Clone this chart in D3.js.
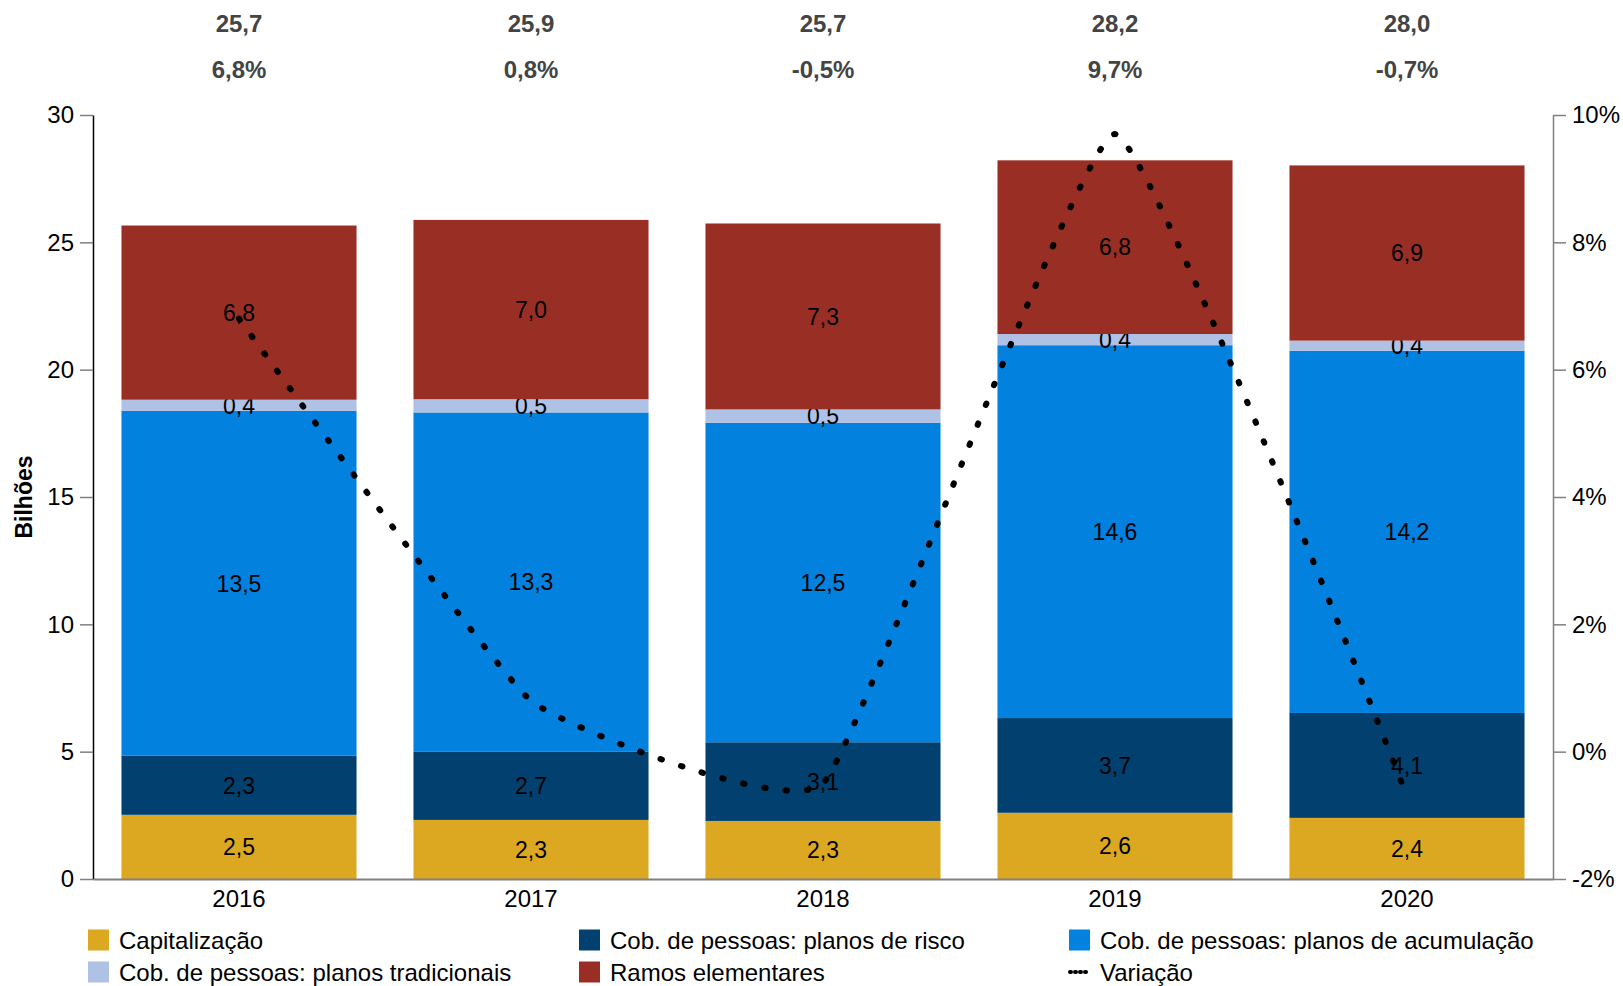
<!DOCTYPE html>
<html>
<head>
<meta charset="utf-8">
<script src="https://cdn.jsdelivr.net/npm/d3@7"></script>
<style>
  body { margin: 0; background: #fff; }
  text { font-family: "Liberation Sans", Arial, sans-serif; }
</style>
</head>
<body>
<div class="canvas"></div>
<script>
// data
const years = ['2016', '2017', '2018', '2019', '2020'];
const capitalizacao = [2.52, 2.32, 2.28, 2.60, 2.40];
const risco = [2.32, 2.69, 3.09, 3.72, 4.12];
const acumulacao = [13.54, 13.31, 12.54, 14.64, 14.22];
const tradicionais = [0.44, 0.52, 0.53, 0.44, 0.40];
const ramos = [6.84, 7.04, 7.30, 6.82, 6.88];
const variacao = [6.8, 0.8, -0.5, 9.7, -0.7];
const leftTicks = [0, 5, 10, 15, 20, 25, 30];
const rightTicks = [-2, 0, 2, 4, 6, 8, 10];

const series = [
    { name: 'Capitalização', values: capitalizacao, color: '#dca822' },
    { name: 'Cob. de pessoas: planos de risco', values: risco, color: '#02406f' },
    { name: 'Cob. de pessoas: planos de acumulação', values: acumulacao, color: '#0281df' },
    { name: 'Cob. de pessoas: planos tradicionais', values: tradicionais, color: '#afc1e5' },
    { name: 'Ramos elementares', values: ramos, color: '#992f24' }
];

// pt-BR style: comma decimal, plain hyphen for minus
const fmt = v => d3.format('.1f')(v).replace('.', ',').replace('\u2212', '-');
const fontSize = 24;

const svg = d3.select('.canvas')
    .append('svg')
    .attr('width', 1623)
    .attr('height', 986);

// plot area
const margin = { top: 115, left: 93, right: 70, bottom: 107 };
const graphWidth = 1623 - margin.left - margin.right;
const graphHeight = 986 - margin.top - margin.bottom;

const graph = svg.append('g')
    .attr('transform', `translate(${margin.left}, ${margin.top})`);

const xScale = d3.scaleBand()
    .domain(years)
    .range([0, graphWidth])
    .paddingInner(0.195)
    .paddingOuter(0.0975);

const yScale = d3.scaleLinear()
    .domain([0, 30])
    .range([graphHeight, 0]);

const y2Scale = d3.scaleLinear()
    .domain([-2, 10])
    .range([graphHeight, 0]);

// stacked data
const table = years.map((y, i) => {
    const row = { year: y };
    series.forEach(s => row[s.name] = s.values[i]);
    return row;
});
const stack = d3.stack().keys(series.map(s => s.name))(table);

const layers = graph.selectAll('g.layer')
    .data(stack)
    .enter()
    .append('g')
    .attr('class', 'layer')
    .attr('fill', (d, i) => series[i].color);

layers.selectAll('rect')
    .data(d => d)
    .enter()
    .append('rect')
    .attr('x', d => xScale(d.data.year))
    .attr('width', xScale.bandwidth())
    .attr('y', d => yScale(d[1]))
    .attr('height', d => yScale(d[0]) - yScale(d[1]));

// segment labels
layers.selectAll('text')
    .data(d => d)
    .enter()
    .append('text')
    .attr('x', d => xScale(d.data.year) + xScale.bandwidth() / 2)
    .attr('y', d => (yScale(d[0]) + yScale(d[1])) / 2)
    .attr('dy', '0.36em')
    .attr('text-anchor', 'middle')
    .attr('font-size', 23)
    .attr('fill', '#000')
    .text(d => fmt(d[1] - d[0]));

// axes
const styleTicks = g => g.selectAll('.tick text')
    .attr('font-size', fontSize)
    .attr('fill', '#000')
    .style('font-family', '"Liberation Sans", Arial, sans-serif');

const yAxis = d3.axisLeft(yScale)
    .tickValues(leftTicks)
    .tickSize(13)
    .tickSizeOuter(0)
    .tickPadding(6);
const yAxisGroup = graph.append('g').call(yAxis).call(styleTicks);
yAxisGroup.select('.domain').attr('stroke', '#000').attr('stroke-width', 1.5);
yAxisGroup.selectAll('.tick line').attr('stroke', '#808080').attr('stroke-width', 1.5);

const y2Axis = d3.axisRight(y2Scale)
    .tickValues(rightTicks)
    .tickSize(13)
    .tickSizeOuter(0)
    .tickPadding(6)
    .tickFormat(d => d + '%');
const y2AxisGroup = graph.append('g')
    .attr('transform', `translate(${graphWidth}, 0)`)
    .call(y2Axis)
    .call(styleTicks);
y2AxisGroup.select('.domain').attr('stroke', '#808080').attr('stroke-width', 1.5);
y2AxisGroup.selectAll('.tick line').attr('stroke', '#808080').attr('stroke-width', 1.5);

const xAxis = d3.axisBottom(xScale).tickSize(0).tickSizeOuter(0).tickPadding(11);
const xAxisGroup = graph.append('g')
    .attr('transform', `translate(0, ${graphHeight})`)
    .call(xAxis)
    .call(styleTicks);
xAxisGroup.select('.domain').attr('stroke', '#808080').attr('stroke-width', 2);

// axis title
svg.append('text')
    .attr('transform', 'translate(32, 497) rotate(-90)')
    .attr('text-anchor', 'middle')
    .attr('font-size', 23)
    .attr('font-weight', 'bold')
    .text('Bilhões');

// variation line (round dots)
const line = d3.line()
    .x((d, i) => xScale(years[i]) + xScale.bandwidth() / 2)
    .y(d => y2Scale(d))
    .curve(d3.curveCardinal.tension(0.65));

graph.append('path')
    .datum(variacao)
    .attr('d', line)
    .attr('fill', 'none')
    .attr('stroke', '#000')
    .attr('stroke-width', 6)
    .attr('stroke-linecap', 'round')
    .attr('stroke-dasharray', '1.5 20');

// totals and variation at top
const totals = years.map((y, i) => d3.sum(series, s => s.values[i]));
svg.selectAll('text.total')
    .data(totals)
    .enter()
    .append('text')
    .attr('class', 'total')
    .attr('x', (d, i) => margin.left + xScale(years[i]) + xScale.bandwidth() / 2)
    .attr('y', 32)
    .attr('text-anchor', 'middle')
    .attr('font-size', fontSize)
    .attr('font-weight', 'bold')
    .attr('fill', '#444')
    .text(d => fmt(d));

svg.selectAll('text.var')
    .data(variacao)
    .enter()
    .append('text')
    .attr('class', 'var')
    .attr('x', (d, i) => margin.left + xScale(years[i]) + xScale.bandwidth() / 2)
    .attr('y', 78)
    .attr('text-anchor', 'middle')
    .attr('font-size', fontSize)
    .attr('font-weight', 'bold')
    .attr('fill', '#444')
    .text(d => fmt(d) + '%');

// legend
const legendItems = [
    { name: series[0].name, color: series[0].color, col: 0, row: 0 },
    { name: series[1].name, color: series[1].color, col: 1, row: 0 },
    { name: series[2].name, color: series[2].color, col: 2, row: 0 },
    { name: series[3].name, color: series[3].color, col: 0, row: 1 },
    { name: series[4].name, color: series[4].color, col: 1, row: 1 },
    { name: 'Variação', color: null, col: 2, row: 1 }
];
const colX = [88, 579, 1069];
const rowY = [940, 972];

const legend = svg.selectAll('g.legend')
    .data(legendItems)
    .enter()
    .append('g')
    .attr('class', 'legend')
    .attr('transform', d => `translate(${colX[d.col]}, ${rowY[d.row]})`);

legend.filter(d => d.color)
    .append('rect')
    .attr('x', 0)
    .attr('y', -10.5)
    .attr('width', 21)
    .attr('height', 21)
    .attr('fill', d => d.color);

legend.filter(d => !d.color)
    .append('line')
    .attr('x1', 1)
    .attr('x2', 20)
    .attr('y1', 0)
    .attr('y2', 0)
    .attr('stroke', '#000')
    .attr('stroke-width', 4)
    .attr('stroke-linecap', 'round')
    .attr('stroke-dasharray', '1 4');

legend.append('text')
    .attr('x', 31)
    .attr('dy', '0.36em')
    .attr('font-size', fontSize)
    .attr('fill', '#000')
    .text(d => d.name);
</script>
</body>
</html>
